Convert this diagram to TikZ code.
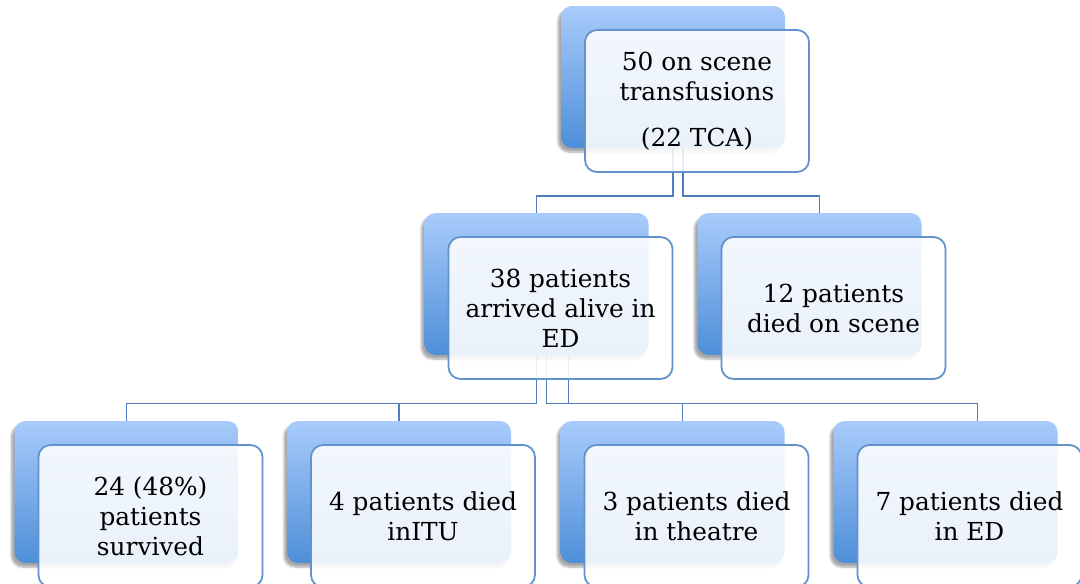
\documentclass[tikz,border=0pt]{standalone}
\usepackage{fontspec}
\setmainfont{DejaVu Serif}
\usetikzlibrary{shadows.blur}

\definecolor{gradtop}{RGB}{168,203,251}
\definecolor{gradbot}{RGB}{78,143,216}
\definecolor{edgeblue}{RGB}{100,146,202}
\definecolor{linkblue}{RGB}{80,126,186}

\pgfdeclarelayer{links}
\pgfsetlayers{links,main}

\tikzset{
  backbox/.style={rounded corners=11pt, minimum width=224pt, minimum height=142pt,
    inner sep=0pt, top color=gradtop, bottom color=gradbot,
    blur shadow={shadow xshift=-3pt, shadow yshift=-4pt, shadow blur steps=6, shadow opacity=35}},
  frontbox/.style={rounded corners=12pt, minimum width=224pt, minimum height=142pt,
    inner sep=0pt, draw=edgeblue, line width=1.8pt, fill=white, fill opacity=0.88,
    text opacity=1, align=center, font=\fontsize{24.8}{30}\selectfont},
  link/.style={draw=linkblue, line width=1.9pt},
}

\begin{document}
\begin{tikzpicture}[x=1pt,y=-1pt]
\useasboundingbox (0,0) rectangle (1080,584);

% level 0
\node[backbox] (topB) at (673,77) {};
\node[frontbox] (top) at (697,101) {50 on scene\\transfusions\\[16pt](22 TCA)};

% level 1
\node[backbox] (aliveB) at (536.5,284) {};
\node[frontbox] (alive) at (560.5,308) {38 patients\\arrived alive in\\ED};
\node[backbox] (sceneB) at (809.5,284) {};
\node[frontbox] (scene) at (833.5,308) {12 patients\\died on scene};

% level 2
\node[backbox] (survB) at (126.5,492) {};
\node[frontbox] (surv) at (150.5,516) {24 (48\%)\\patients\\survived};
\node[backbox] (ituB) at (399,492) {};
\node[frontbox] (itu) at (423,516) {4 patients died\\inITU};
\node[backbox] (theaB) at (672.5,492) {};
\node[frontbox] (thea) at (696.5,516) {3 patients died\\in theatre};
\node[backbox] (edB) at (945.5,492) {};
\node[frontbox] (ed) at (969.5,516) {7 patients died\\in ED};

% elbow connectors behind the boxes
\coordinate (busA) at (0,196);
\coordinate (busB) at (0,403.5);
\begin{pgfonlayer}{links}
  \draw[link] (topB.south) -- (topB.south |- busA) -| (aliveB.north);
  \draw[link] ([xshift=10pt]topB.south) -- ([xshift=10pt]topB.south |- busA) -| ([xshift=10pt]sceneB.north);
  \draw[link] (aliveB.south) -- (aliveB.south |- busB) -| (survB.north);
  \draw[link] (aliveB.south) -- (aliveB.south |- busB) -| (ituB.north);
  \draw[link] ([xshift=10pt]aliveB.south) -- ([xshift=10pt]aliveB.south |- busB) -| ([xshift=10pt]theaB.north);
  \draw[link] ([xshift=32pt]aliveB.south) -- ([xshift=32pt]aliveB.south |- busB) -| ([xshift=32pt]edB.north);
\end{pgfonlayer}
\end{tikzpicture}
\end{document}
